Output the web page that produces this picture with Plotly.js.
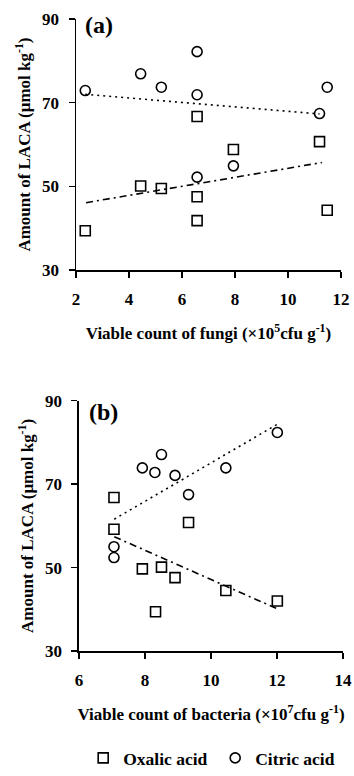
<!DOCTYPE html>
<html>
<head>
<meta charset="utf-8">
<script src="https://cdn.plot.ly/plotly-3.0.1.min.js"></script>
<style>html,body{margin:0;padding:0;background:#fff;}#chart{width:354px;height:776px;}</style>
</head>
<body>
<div id="chart"></div>
<script>
// Panel (a): fungi
const fungiX      = [2.35, 4.44, 5.22, 6.57, 6.57, 6.57, 7.94, 11.19, 11.48];
const oxalicFungi = [39.4, 50.1, 49.5, 66.7, 47.5, 41.8, 58.8, 60.7, 44.3];
const citricFungi = [72.9, 76.9, 73.7, 82.2, 71.9, 52.2, 54.9, 67.4, 73.7];
const oxalicFungiTrendX = [2.38, 11.28];
const oxalicFungiTrendY = [46.1, 55.7];
const citricFungiTrendX = [2.35, 11.19];
const citricFungiTrendY = [72.0, 67.3];

// Panel (b): bacteria
const bactOxX     = [7.06, 7.06, 7.92, 8.32, 8.50, 8.91, 9.32, 10.45, 12.01];
const oxalicBact  = [66.8, 59.2, 49.7, 39.4, 50.1, 47.6, 60.8, 44.5, 42.0];
const bactCiX     = [7.06, 7.06, 7.92, 8.30, 8.50, 8.91, 9.32, 10.45, 12.01];
const citricBact  = [55.0, 52.4, 73.9, 72.8, 77.1, 72.1, 67.5, 73.9, 82.4];
const oxalicBactTrendX = [7.07, 12.04];
const oxalicBactTrendY = [57.4, 40.0];
const citricBactTrendX = [7.07, 12.02];
const citricBactTrendY = [61.6, 84.4];

const xTicksA = [2, 4, 6, 8, 10, 12];
const xTicksB = [6, 8, 10, 12, 14];
const yTicks  = [30, 50, 70, 90];
const bold = v => '<b>' + v + '</b>';

const FONT = 'Liberation Serif, Times New Roman, serif';
const sq = {symbol: 'square-open', size: 10, color: '#000', line: {width: 1.6, color: '#000'}};
const ci = {symbol: 'circle-open', size: 10, color: '#000', line: {width: 1.6, color: '#000'}};
const dotLine = {color: '#000', width: 1.6, dash: '2px,4px'};
const dashDotLine = {color: '#000', width: 1.6, dash: '7px,4px,2px,4px'};

const traces = [
  {x: oxalicFungiTrendX, y: oxalicFungiTrendY, mode: 'lines', line: dashDotLine, showlegend: false, xaxis: 'x', yaxis: 'y', hoverinfo: 'skip'},
  {x: citricFungiTrendX, y: citricFungiTrendY, mode: 'lines', line: dotLine, showlegend: false, xaxis: 'x', yaxis: 'y', hoverinfo: 'skip'},
  {x: fungiX, y: oxalicFungi, mode: 'markers', marker: sq, name: '<b>Oxalic acid</b>', legendgroup: 'ox', xaxis: 'x', yaxis: 'y'},
  {x: fungiX, y: citricFungi, mode: 'markers', marker: ci, name: '<b>Citric acid</b>', legendgroup: 'ci', xaxis: 'x', yaxis: 'y'},
  {x: oxalicBactTrendX, y: oxalicBactTrendY, mode: 'lines', line: dashDotLine, showlegend: false, xaxis: 'x2', yaxis: 'y2', hoverinfo: 'skip'},
  {x: citricBactTrendX, y: citricBactTrendY, mode: 'lines', line: dotLine, showlegend: false, xaxis: 'x2', yaxis: 'y2', hoverinfo: 'skip'},
  {x: bactOxX, y: oxalicBact, mode: 'markers', marker: sq, name: '<b>Oxalic acid</b>', legendgroup: 'ox', showlegend: false, xaxis: 'x2', yaxis: 'y2'},
  {x: bactCiX, y: citricBact, mode: 'markers', marker: ci, name: '<b>Citric acid</b>', legendgroup: 'ci', showlegend: false, xaxis: 'x2', yaxis: 'y2'}
];

const axBase = {
  showline: true, linecolor: '#000', linewidth: 1.5, showgrid: false, zeroline: false,
  ticks: 'outside', ticklen: 6, tickwidth: 1.5, tickcolor: '#000',
  tickfont: {family: FONT, size: 17, color: '#000'},
  mirror: false, automargin: false, fixedrange: true
};
const titleFont = {family: FONT, size: 17, color: '#000'};

const layout = {
  width: 354, height: 776,
  margin: {l: 76, r: 11, t: 19, b: 125},
  paper_bgcolor: '#fff', plot_bgcolor: '#fff',
  font: {family: FONT, color: '#000'},
  showlegend: true,
  legend: {orientation: 'h', xref: 'container', yref: 'container', x: 0.235, xanchor: 'left', y: 0.0, yanchor: 'bottom',
           entrywidth: 87, entrywidthmode: 'pixels', borderwidth: 0,
           font: {family: FONT, size: 17.5, color: '#000'}, bgcolor: 'rgba(0,0,0,0)'},
  xaxis: Object.assign({}, axBase, {domain: [0, 0.9925], range: [2, 12], tickvals: xTicksA, ticktext: xTicksA.map(bold), anchor: 'y',
    ticklabelstandoff: 7,
    title: {text: '<b>Viable count of fungi (×10<sup>5</sup>cfu g<sup>-1</sup>)</b>', font: titleFont, standoff: 19}}),
  yaxis: Object.assign({}, axBase, {domain: [0.6028, 1], range: [30, 90], tickvals: yTicks, ticktext: yTicks.map(bold), anchor: 'x',
    ticklabelstandoff: 6,
    title: {text: '<b>Amount of LACA (μmol kg<sup>-1</sup>)</b>', font: titleFont, standoff: 7}}),
  xaxis2: Object.assign({}, axBase, {domain: [0.0112, 1], range: [6, 14], tickvals: xTicksB, ticktext: xTicksB.map(bold), anchor: 'y2',
    ticklabelstandoff: 7,
    title: {text: '<b>Viable count of bacteria (×10<sup>7</sup>cfu g<sup>-1</sup>)</b>', font: titleFont, standoff: 19}}),
  yaxis2: Object.assign({}, axBase, {domain: [0, 0.396], range: [30, 90], tickvals: yTicks, ticktext: yTicks.map(bold), anchor: 'x2',
    ticklabelstandoff: 6,
    title: {text: '<b>Amount of LACA (μmol kg<sup>-1</sup>)</b>', font: titleFont, standoff: 7}}),
  annotations: [
    {text: '<b>(a)</b>', xref: 'paper', yref: 'paper', x: 0.026, y: 0.9905, xanchor: 'left', yanchor: 'middle',
     showarrow: false, font: {family: FONT, size: 24, color: '#000'}},
    {text: '<b>(b)</b>', xref: 'paper', yref: 'paper', x: 0.041, y: 0.378, xanchor: 'left', yanchor: 'middle',
     showarrow: false, font: {family: FONT, size: 24, color: '#000'}}
  ]
};

Plotly.newPlot('chart', traces, layout, {staticPlot: true, displayModeBar: false});
</script>
</body>
</html>
